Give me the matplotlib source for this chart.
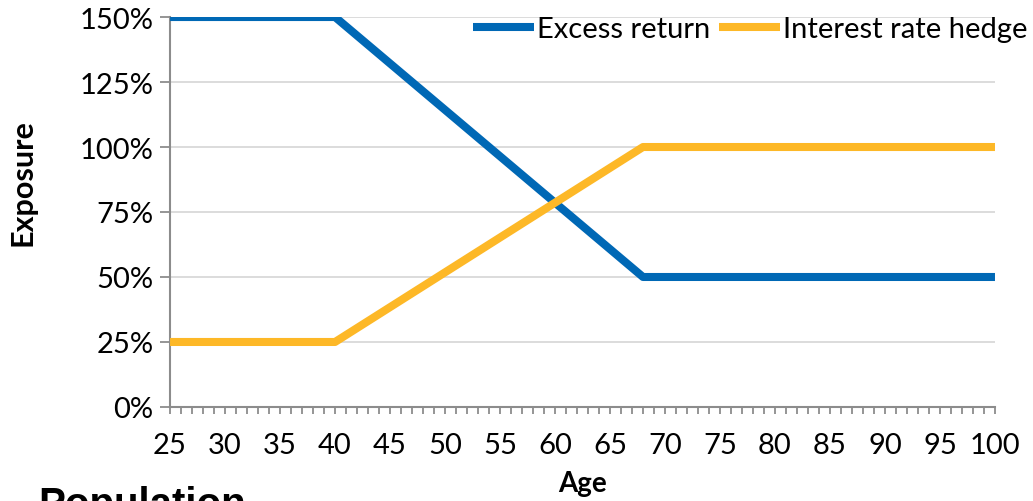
import matplotlib
matplotlib.use("Agg")
import matplotlib.pyplot as plt
from matplotlib.ticker import MultipleLocator, FuncFormatter

# Glide path: exposure by age
ages = [25, 40, 68, 100]
excess_return = [150, 150, 50, 50]
rate_hedge = [25, 25, 100, 100]
series_names = ["Excess return", "Interest rate hedge"]

blue = "#0068B5"
orange = "#FDB827"
axis_grey = "#8C8C8C"

plt.rcParams["font.family"] = ["Lato", "DejaVu Sans"]
plt.rcParams["font.size"] = 21

fig = plt.figure(figsize=(10.33, 5.02), dpi=100)
ax = fig.add_axes([0.1646, 0.1873, 0.7986, 0.7768])

ax.plot(ages, excess_return, color=blue, lw=5.8, solid_capstyle="butt",
        label=series_names[0], zorder=3)
ax.plot(ages, rate_hedge, color=orange, lw=5.8, solid_capstyle="butt",
        label=series_names[1], zorder=3)

ax.set_xlim(25, 100)
ax.set_ylim(0, 150)
ax.xaxis.set_major_locator(MultipleLocator(5))
ax.xaxis.set_minor_locator(MultipleLocator(1))
ax.yaxis.set_major_locator(MultipleLocator(25))
ax.yaxis.set_major_formatter(FuncFormatter(lambda v, p: f"{v:.0f}%"))

ax.grid(axis="y", color="#D9D9D9", lw=1.3, zorder=0)
ax.set_axisbelow(True)
for s in ["top", "right"]:
    ax.spines[s].set_visible(False)
for s in ["left", "bottom"]:
    ax.spines[s].set_color(axis_grey)
    ax.spines[s].set_linewidth(1.5)

ax.tick_params(axis="x", which="both", direction="out", length=5,
               width=1.3, color=axis_grey, pad=13)
ax.tick_params(axis="y", direction="out", length=7, width=1.3,
               color=axis_grey, pad=5)

ax.set_xlabel("Age", fontsize=20, fontweight="bold")
ax.set_ylabel("Exposure", fontsize=22, fontweight="bold")
ax.xaxis.set_label_coords(0.5, -0.162)
ax.yaxis.set_label_coords(-0.162, 0.577)

fig.legend(loc="center right", bbox_to_anchor=(0.995, 0.94), frameon=False,
           handlelength=2.1, handletextpad=0.1, columnspacing=0.3,
           ncol=2, borderpad=0, borderaxespad=0, fontsize=21)

# section heading below the chart, partly off the page
fig.text(38 / 1033, 1 - 516 / 502, "Population", family="Liberation Sans",
         fontweight="bold", fontsize=29, va="baseline", ha="left")

fig.savefig("out.png", dpi=100)
